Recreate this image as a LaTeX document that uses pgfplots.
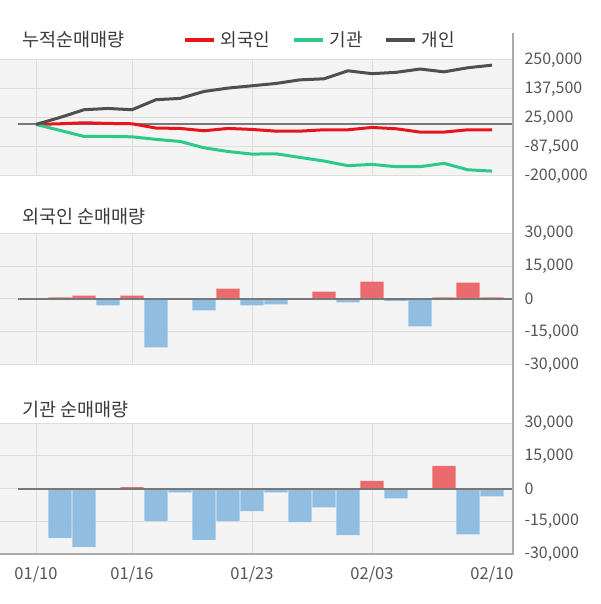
\documentclass[border=0pt]{standalone}
\usepackage{fontspec}
\setmainfont{Noto Sans CJK KR}
\usepackage{pgfplots}
\pgfplotsset{compat=1.18}
\definecolor{bgc}{HTML}{F4F4F4}
\definecolor{gridc}{HTML}{DDDDDD}
\definecolor{basec}{HTML}{787878}
\definecolor{framec}{HTML}{ABABAB}
\definecolor{txtc}{HTML}{555555}
\definecolor{titlec}{HTML}{3A3A3A}
\definecolor{forc}{HTML}{E8141C}
\definecolor{insc}{HTML}{2CC98B}
\definecolor{indc}{HTML}{4F4F4F}
\definecolor{posc}{HTML}{EA6A6E}
\definecolor{negc}{HTML}{91BDE0}

\pgfplotsset{
  panel/.style={
    scale only axis, width=513pt, anchor=south west,
    xmin=-1.5, xmax=19.875,
    axis background/.style={fill=bgc},
    axis line style={draw=none},
    major tick length=0pt,
    xtick={0,4,9,14}, xticklabels={},
    xmajorgrids, ymajorgrids,
    grid style={gridc, line width=1pt},
    yticklabel pos=right,
    yticklabel style={anchor=west, xshift=8pt, font=\fontsize{16}{19}\selectfont, text=txtc},
    /pgf/number format/assume math mode=true,
    /pgf/number format/fixed, /pgf/number format/precision=0,
    /pgf/number format/1000 sep={,},
    scaled y ticks=false,
  },
  bars/.style={ybar, bar width=0.96, bar shift=0pt, draw=none},
}

\begin{document}
\begin{tikzpicture}
\useasboundingbox (0pt,0pt) rectangle (600pt,604pt);

% cumulative
\begin{axis}[panel, at={(0pt,428pt)}, height=116pt,
  ymin=-200000, ymax=250000,
  ytick={-200000,-87500,25000,137500,250000},
  legend columns=3,
  legend style={draw=none, fill=none, at={(axis description cs:0.356,1.172)}, anchor=west,
    inner xsep=0pt, inner ysep=0pt, font=\fontsize{18}{21}\selectfont, text=titlec,
    /tikz/every odd column/.append style={column sep=3pt},
    /tikz/every even column/.append style={column sep=19pt}},
  legend image code/.code={\draw[#1, line width=4pt] (0pt,0pt) -- (29pt,0pt);},
]
\draw[basec, line width=2pt] (axis cs:-0.75,0) -- (axis cs:19.875,0);
\addplot[forc, line width=3pt] coordinates {(0,0) (1,2600) (2,6500) (3,3900) (4,2600) (5,-14000) (6,-15500) (7,-24600) (8,-15500) (9,-19400) (10,-26000) (11,-26000) (12,-20700) (13,-20700) (14,-11600) (15,-16800) (16,-29700) (17,-29700) (18,-20700) (19,-20700)};
\addlegendentry{외국인}
\addplot[insc, line width=3pt] coordinates {(0,0) (1,-23000) (2,-46500) (3,-46500) (4,-48000) (5,-58000) (6,-66000) (7,-90500) (8,-105000) (9,-115000) (10,-114000) (11,-128000) (12,-142000) (13,-160000) (14,-155000) (15,-164000) (16,-164000) (17,-151000) (18,-176000) (19,-181000)};
\addlegendentry{기관}
\addplot[indc, line width=3pt] coordinates {(0,0) (1,27000) (2,57000) (3,62000) (4,57000) (5,96000) (6,101000) (7,128000) (8,141000) (9,150000) (10,159000) (11,173000) (12,177000) (13,208000) (14,197000) (15,202000) (16,215000) (17,204000) (18,220000) (19,230000)};
\addlegendentry{개인}
\end{axis}

% foreign
\begin{axis}[panel, at={(0pt,239pt)}, height=132pt,
  ymin=-30000, ymax=30000, ytick={-30000,-15000,0,15000,30000}]
\addplot[bars, fill=posc] coordinates {(1,700) (2,1500) (4,1500) (8,4700) (12,3300) (14,7900) (17,700) (18,7400) (19,700)};
\addplot[bars, fill=negc] coordinates {(3,-2900) (5,-22000) (7,-5200) (9,-2900) (10,-2400) (13,-1500) (15,-900) (16,-12400)};
\draw[basec, line width=2pt] (axis cs:-0.75,0) -- (axis cs:19.875,0);
\end{axis}

% institution
\begin{axis}[panel, at={(0pt,50pt)}, height=131pt,
  ymin=-30000, ymax=30000, ytick={-30000,-15000,0,15000,30000},
  xticklabels={01/10,01/16,01/23,02/03},
  extra x ticks={19}, extra x tick labels={02/10},
  extra x tick style={grid=none},
  xticklabel style={font=\fontsize{16.5}{20}\selectfont, text=txtc, yshift=-9pt}]
\addplot[bars, fill=posc] coordinates {(4,600) (14,3500) (17,10400)};
\addplot[bars, fill=negc] coordinates {(1,-22600) (2,-26700) (5,-14900) (6,-1800) (7,-23500) (8,-14900) (9,-10400) (10,-1800) (11,-15400) (12,-8600) (13,-21300) (15,-4500) (18,-21000) (19,-3600)};
\draw[basec, line width=2pt] (axis cs:-0.75,0) -- (axis cs:19.875,0);
\end{axis}

\draw[framec, line width=1.5pt] (0pt,50pt) -- (513pt,50pt);
\draw[framec, line width=1.5pt] (513pt,49.25pt) -- (513pt,571pt);

\node[anchor=west, font=\fontsize{18.5}{22}\selectfont, text=titlec, inner sep=0pt] at (22pt,564pt) {누적순매매량};
\node[anchor=west, font=\fontsize{18.5}{22}\selectfont, text=titlec, inner sep=0pt] at (22pt,387pt) {외국인 순매매량};
\node[anchor=west, font=\fontsize{18.5}{22}\selectfont, text=titlec, inner sep=0pt] at (22pt,194pt) {기관 순매매량};
\end{tikzpicture}
\end{document}
